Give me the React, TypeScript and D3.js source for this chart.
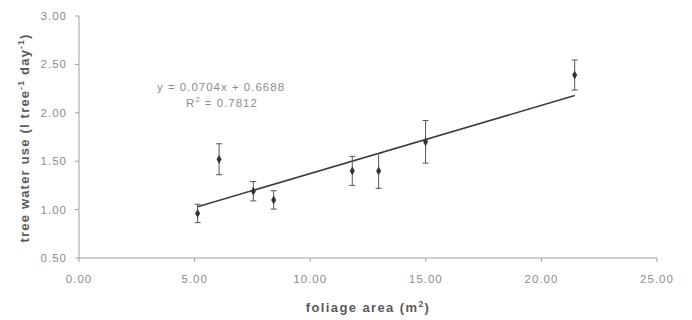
import React from "react";
import * as d3 from "d3";

const foliageArea = [5.13, 6.06, 7.54, 8.42, 11.82, 12.96, 14.99, 21.44];
const waterUse = [0.96, 1.52, 1.19, 1.10, 1.40, 1.40, 1.70, 2.39];
const errors = [0.095, 0.16, 0.1, 0.095, 0.15, 0.18, 0.22, 0.155];
const xTicks = [0, 5, 10, 15, 20, 25];
const yTicks = [0.5, 1.0, 1.5, 2.0, 2.5, 3.0];
const slope = 0.0704;
const intercept = 0.6688;
const r2Label = "0.7812";

const W = 692;
const H = 320;

export default function App() {
  const x = d3.scaleLinear().domain([0, 25]).range([79, 657]);
  const y = d3.scaleLinear().domain([0.5, 3]).range([258, 16]);
  const fmt = d3.format(".2f");
  const x0 = d3.min(foliageArea) as number;
  const x1 = d3.max(foliageArea) as number;
  const line = d3
    .line<number>()
    .x((d) => x(d))
    .y((d) => y(slope * d + intercept));
  const tickColor = "#8c8c8c";
  const axisColor = "#a0a0a0";
  const labelColor = "#5a5a5a";
  const font = "'Liberation Sans', Arial, sans-serif";
  return (
    <svg
      width={W}
      height={H}
      style={{ position: "fixed", left: 0, top: 0, background: "#fff" }}
      fontFamily={font}
    >
      <rect width={W} height={H} fill="#fff" />
      {/* axes */}
      <line x1={x(0)} x2={x(0)} y1={y(0.5)} y2={y(3)} stroke={axisColor} strokeWidth={1} />
      <line x1={x(0)} x2={x(25)} y1={y(0.5)} y2={y(0.5)} stroke={axisColor} strokeWidth={1} />
      {yTicks.map((t) => (
        <g key={"y" + t}>
          <line x1={x(0) - 4} x2={x(0)} y1={y(t)} y2={y(t)} stroke={axisColor} />
          <text
            x={67}
            y={y(t)}
            dy="0.35em"
            textAnchor="end"
            fontSize={11.5}
            letterSpacing={1}
            fill={tickColor}
          >
            {fmt(t)}
          </text>
        </g>
      ))}
      {xTicks.map((t) => (
        <g key={"x" + t}>
          <line x1={x(t)} x2={x(t)} y1={y(0.5)} y2={y(0.5) + 4} stroke={axisColor} />
          <text
            x={x(t)}
            y={283}
            textAnchor="middle"
            fontSize={11.5}
            letterSpacing={1}
            fill={tickColor}
          >
            {fmt(t)}
          </text>
        </g>
      ))}
      {/* axis titles */}
      <text
        x={368}
        y={312}
        textAnchor="middle"
        fontSize={13}
        fontWeight="bold"
        letterSpacing={1.4}
        fill={labelColor}
      >
        foliage area (m
        <tspan dy={-5} fontSize={8.5}>2</tspan>
        <tspan dy={5}>)</tspan>
      </text>
      <text
        transform={`translate(29,${138}) rotate(-90)`}
        textAnchor="middle"
        fontSize={13}
        fontWeight="bold"
        letterSpacing={1.2}
        fill={labelColor}
      >
        tree water use (l tree
        <tspan dy={-5} fontSize={8.5}>-1</tspan>
        <tspan dy={5}> day</tspan>
        <tspan dy={-5} fontSize={8.5}>-1</tspan>
        <tspan dy={5}>)</tspan>
      </text>
      {/* trendline */}
      <path d={line([x0, x1]) as string} fill="none" stroke="#3c3c3c" strokeWidth={1.6} />
      {/* error bars and points */}
      {foliageArea.map((fa, i) => {
        const cx = x(fa);
        const top = y(waterUse[i] + errors[i]);
        const bot = y(waterUse[i] - errors[i]);
        const cy = y(waterUse[i]);
        return (
          <g key={"p" + i}>
            <line x1={cx} x2={cx} y1={top} y2={bot} stroke="#555" strokeWidth={1} />
            <line x1={cx - 3} x2={cx + 3} y1={top} y2={top} stroke="#555" strokeWidth={1} />
            <line x1={cx - 3} x2={cx + 3} y1={bot} y2={bot} stroke="#555" strokeWidth={1} />
            <path
              d={d3.symbol().type(d3.symbolDiamond).size(22)() as string}
              transform={`translate(${cx},${cy})`}
              fill="#333"
            />
          </g>
        );
      })}
      {/* equation */}
      <text x={221} y={90.5} textAnchor="middle" fontSize={11.5} letterSpacing={1} fill={tickColor}>
        {`y = ${slope}x + ${intercept}`}
      </text>
      <text x={222} y={106.5} textAnchor="middle" fontSize={11.5} letterSpacing={1} fill={tickColor}>
        R<tspan dy={-5} fontSize={7.5}>2</tspan>
        <tspan dy={5}>{` = ${r2Label}`}</tspan>
      </text>
    </svg>
  );
}
